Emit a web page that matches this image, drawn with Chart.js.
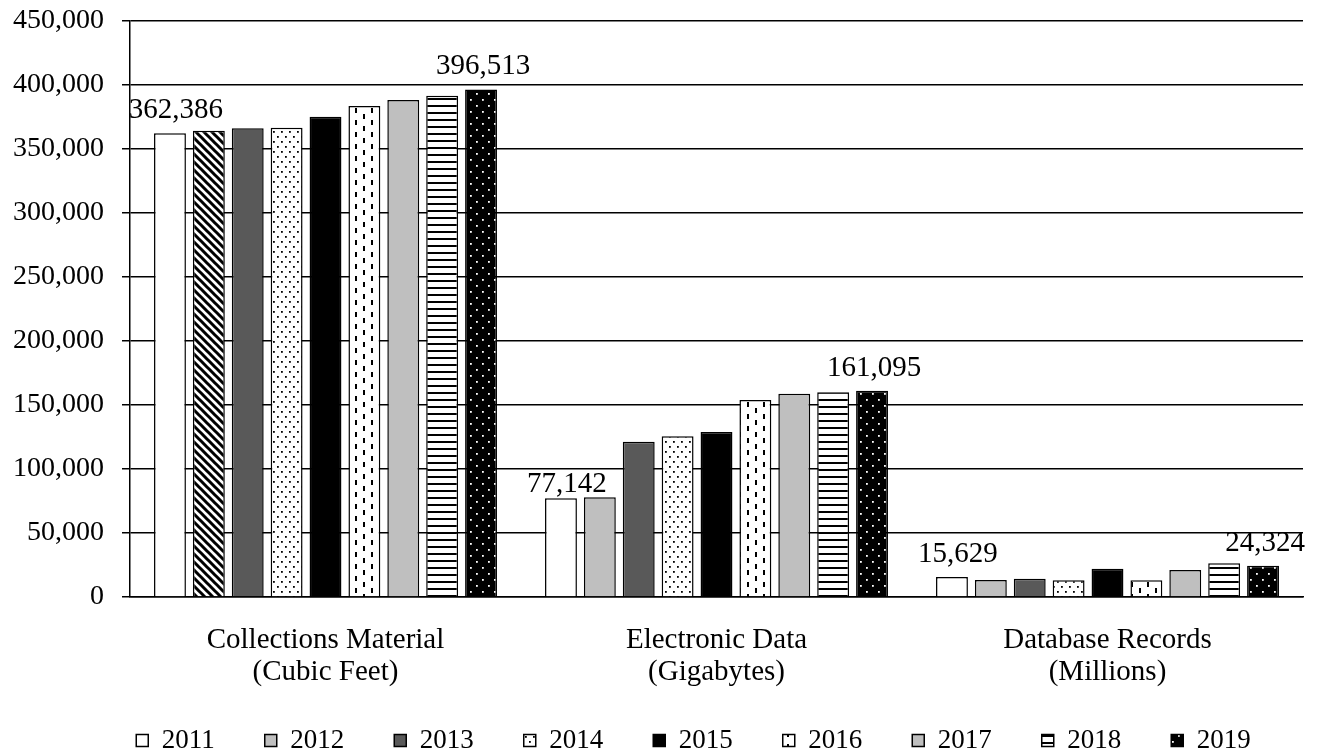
<!DOCTYPE html>
<html>
<head>
<meta charset="utf-8">
<script src="https://cdn.jsdelivr.net/npm/chart.js@4.4.1/dist/chart.umd.min.js"></script>
<style>
  html, body { margin: 0; padding: 0; background: #fff; }
  #wrap { width: 1317px; height: 753px; }
</style>
</head>
<body>
<div id="wrap"><canvas id="chart"></canvas></div>
<script>
// categories (two-line labels)
const categories = [
    ["Collections Material", "(Cubic Feet)"],
    ["Electronic Data", "(Gigabytes)"],
    ["Database Records", "(Millions)"]
];
const years = ["2011", "2012", "2013", "2014", "2015", "2016", "2017", "2018", "2019"];

// one array per year: [collections, electronic, database]
const v2011 = [362386, 77142, 15629];
const v2012 = [364300, 77900, 13300];
const v2013 = [366200, 121300, 14300];
const v2014 = [366600, 125500, 13000];
const v2015 = [375200, 128900, 22100];
const v2016 = [383600, 153900, 13000];
const v2017 = [388300, 158800, 21100];
const v2018 = [391600, 159900, 26300];
const v2019 = [396513, 161095, 24324];
const seriesValues = [v2011, v2012, v2013, v2014, v2015, v2016, v2017, v2018, v2019];

// y axis ticks
const yMin = 0, yMax = 450000, yStep = 50000;

// years whose values are written above the bars
const labelledYears = ["2011", "2019"];

// --- pattern helpers ---
function makePattern(w, h, draw) {
    const c = document.createElement("canvas");
    c.width = w; c.height = h;
    const g = c.getContext("2d");
    draw(g, w, h);
    return g.createPattern(c, "repeat");
}
const ctx = document.getElementById("chart").getContext("2d");

const diag = makePattern(8, 8, (g, w, h) => {
    g.fillStyle = "#fff"; g.fillRect(0, 0, w, h);
    g.strokeStyle = "#000"; g.lineWidth = 3;
    g.beginPath();
    g.moveTo(-2, -2); g.lineTo(w + 2, h + 2);
    g.moveTo(-2, h - 2); g.lineTo(2, h + 2);
    g.moveTo(w - 2, -2); g.lineTo(w + 2, 2);
    g.stroke();
});
const dots = makePattern(8, 10, (g, w, h) => {
    g.fillStyle = "#fff"; g.fillRect(0, 0, w, h);
    g.fillStyle = "#000";
    g.fillRect(1, 1, 1.8, 1.8);
    g.fillRect(5, 6, 1.8, 1.8);
});
const vdash = makePattern(16, 12, (g, w, h) => {
    g.fillStyle = "#fff"; g.fillRect(0, 0, w, h);
    g.fillStyle = "#000";
    g.fillRect(3, 0, 2, 5);
    g.fillRect(11, 6, 2, 5);
});
const hlines = makePattern(4, 7, (g, w, h) => {
    g.fillStyle = "#fff"; g.fillRect(0, 0, w, h);
    g.fillStyle = "#000";
    g.fillRect(0, 0, w, 2);
});
const whiteDots = makePattern(12, 12, (g, w, h) => {
    g.fillStyle = "#000"; g.fillRect(0, 0, w, h);
    g.fillStyle = "#fff";
    g.fillRect(2, 3, 1.8, 1.8);
    g.fillRect(8, 9, 1.8, 1.8);
});

const legendFills = ["#ffffff", "#bfbfbf", "#595959", dots, "#000000", vdash, "#bfbfbf", hlines, whiteDots];
// the 2012 bar in the first group is hatched in the original
const barFills = legendFills.map((f, i) => i === 1 ? [diag, f, f] : f);

const datasets = years.map((y, i) => ({
    label: y,
    data: seriesValues[i],
    backgroundColor: barFills[i],
    borderColor: "#000",
    borderWidth: 1.5,
    categoryPercentage: 0.895,
    barPercentage: 0.82
}));

// draws the value labels above first and last bars
const valueLabels = {
    id: "valueLabels",
    afterDatasetsDraw(chart) {
        const c = chart.ctx;
        c.save();
        c.font = "29px 'Liberation Serif'";
        c.fillStyle = "#000";
        c.textAlign = "center";
        c.textBaseline = "alphabetic";
        chart.data.datasets.forEach((ds, di) => {
            if (!labelledYears.includes(ds.label)) return;
            const meta = chart.getDatasetMeta(di);
            meta.data.forEach((bar, k) => {
                const txt = ds.data[k].toLocaleString("en-US");
                const dx = di === 0 ? 6 : 2;
                // the small Electronic Data label sits close to its bar
                const gap = (di === 0 && k === 1) ? 6 : 15;
                c.fillText(txt, bar.x + dx, bar.y - gap);
            });
        });
        c.restore();
    }
};

// legend: keep wide spacing between items without giving it the full vertical padding
const legendPlace = {
    id: "legendPlace",
    beforeInit(chart) {
        const fit = chart.legend.fit;
        chart.legend.fit = function () {
            fit.bind(chart.legend)();
            this.height = 65;
        };
    },
    afterLayout(chart) {
        const lg = chart.legend;
        lg.top -= 11;
        lg.left += 40; lg.right += 40;
    }
};

Chart.defaults.font.family = "'Liberation Serif', 'Times New Roman', serif";
Chart.defaults.color = "#000";

new Chart(ctx, {
    type: "bar",
    data: { labels: categories, datasets: datasets },
    options: {
        responsive: true,
        maintainAspectRatio: false,
        animation: false,
        layout: { padding: { left: 4, right: 14, top: 0, bottom: 0 } },
        scales: {
            x: {
                grid: { display: false, drawTicks: false },
                border: { color: "#000", width: 1.5 },
                ticks: {
                    font: { size: 29, lineHeight: 1.12 },
                    padding: 27,
                    maxRotation: 0
                },
                afterFit(scale) { scale.height = 91; }
            },
            y: {
                min: yMin,
                max: yMax,
                grid: { color: "#000", lineWidth: 1.5, tickLength: 8 },
                border: { color: "#000", width: 1.5 },
                ticks: {
                    stepSize: yStep,
                    font: { size: 28, lineHeight: 1 },
                    padding: 18,
                    callback: v => v.toLocaleString("en-US")
                },
                afterFit(scale) {
                    scale.width = 126;
                    scale.paddingTop = 21;
                    scale.paddingBottom = 0;
                }
            }
        },
        plugins: {
            tooltip: { enabled: false },
            legend: {
                position: "bottom",
                labels: {
                    font: { size: 27 },
                    boxWidth: 12,
                    boxHeight: 12,
                    padding: 50,
                    generateLabels: chart => chart.data.datasets.map((ds, i) => ({
                        text: ds.label,
                        fillStyle: legendFills[i],
                        strokeStyle: "#000",
                        lineWidth: 1.5,
                        fontColor: "#000",
                        hidden: false,
                        datasetIndex: i
                    }))
                }
            }
        }
    },
    plugins: [valueLabels, legendPlace]
});
</script>
</body>
</html>
